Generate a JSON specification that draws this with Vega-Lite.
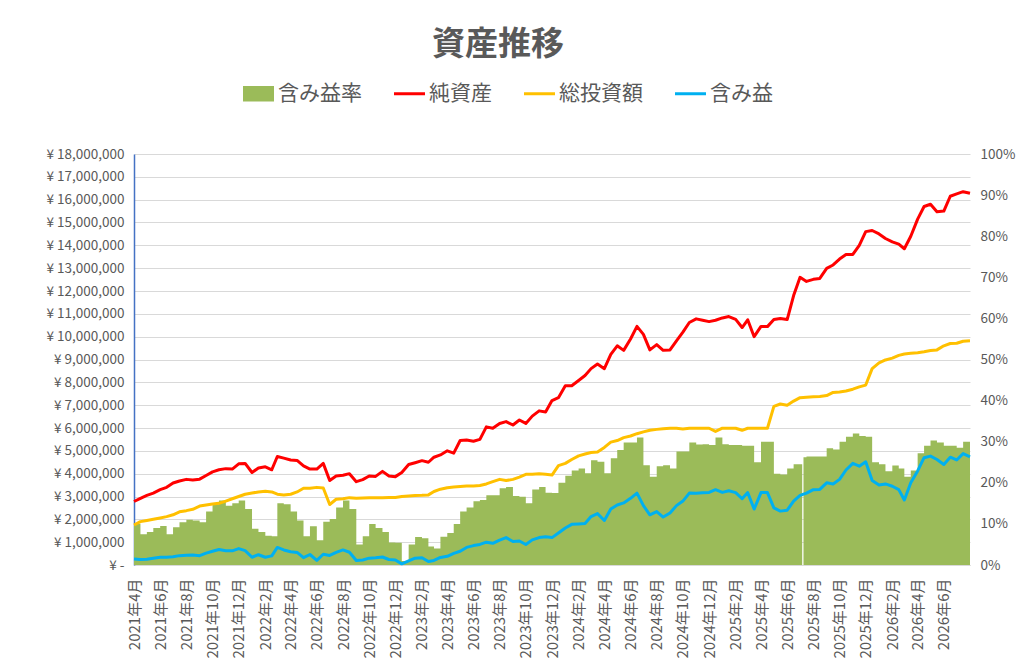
{
  "$schema": "https://vega.github.io/schema/vega-lite/v6.json",
  "width": 836,
  "height": 411,
  "autosize": {"type": "none"},
  "padding": {"left": 134, "top": 154, "right": 54, "bottom": 107},
  "background": "white",
  "title": {"text": "資産推移", "fontSize": 33, "fontWeight": "bold", "color": "#595959", "font": "Noto Sans CJK JP", "anchor": "middle", "frame": "group", "dx": -54, "offset": 21},
  "config": {
    "view": {"stroke": null},
    "axis": {"labelFont": "Noto Sans CJK JP", "labelColor": "#595959", "labelFontSize": 13.5, "title": null},
    "legend": {
      "orient": "none", "direction": "horizontal",
      "labelFont": "Noto Sans CJK JP", "labelFontSize": 21, "labelColor": "#595959", "labelLimit": 300,
      "symbolSize": 961, "symbolStrokeWidth": 3, "labelOffset": 9, "columnPadding": 26
    }
  },
  "data": {"values": [
    {"日付": "2021/04/01", "純資産": 2780000, "総投資額": 1750000, "含み益": 260000, "含み益率": 0.10},
    {"日付": "2021/04/16", "純資産": 2920000, "総投資額": 1900000, "含み益": 240000, "含み益率": 0.075},
    {"日付": "2021/05/01", "純資産": 3050000, "総投資額": 1950000, "含み益": 250000, "含み益率": 0.08},
    {"日付": "2021/05/16", "純資産": 3150000, "総投資額": 2000000, "含み益": 300000, "含み益率": 0.09},
    {"日付": "2021/06/01", "純資産": 3300000, "総投資額": 2060000, "含み益": 340000, "含み益率": 0.095},
    {"日付": "2021/06/16", "純資産": 3400000, "総投資額": 2120000, "含み益": 340000, "含み益率": 0.075},
    {"日付": "2021/07/01", "純資産": 3590000, "総投資額": 2200000, "含み益": 360000, "含み益率": 0.092},
    {"日付": "2021/07/16", "純資産": 3680000, "総投資額": 2330000, "含み益": 410000, "含み益率": 0.104},
    {"日付": "2021/08/01", "純資産": 3750000, "総投資額": 2380000, "含み益": 430000, "含み益率": 0.11},
    {"日付": "2021/08/16", "純資産": 3720000, "総投資額": 2440000, "含み益": 440000, "含み益率": 0.108},
    {"日付": "2021/09/01", "純資産": 3760000, "総投資額": 2580000, "含み益": 410000, "含み益率": 0.104},
    {"日付": "2021/09/16", "純資産": 3920000, "総投資額": 2630000, "含み益": 520000, "含み益率": 0.13},
    {"日付": "2021/10/01", "純資産": 4080000, "総投資額": 2670000, "含み益": 600000, "含み益率": 0.148},
    {"日付": "2021/10/16", "純資産": 4170000, "総投資額": 2700000, "含み益": 680000, "含み益率": 0.157},
    {"日付": "2021/11/01", "純資産": 4220000, "総投資額": 2800000, "含み益": 620000, "含み益率": 0.144},
    {"日付": "2021/11/16", "純資産": 4200000, "総投資額": 2900000, "含み益": 620000, "含み益率": 0.15},
    {"日付": "2021/12/01", "純資産": 4430000, "総投資額": 3000000, "含み益": 720000, "含み益率": 0.157},
    {"日付": "2021/12/16", "純資産": 4450000, "総投資額": 3100000, "含み益": 630000, "含み益率": 0.136},
    {"日付": "2022/01/01", "純資産": 4050000, "総投資額": 3150000, "含み益": 340000, "含み益率": 0.088},
    {"日付": "2022/01/16", "純資産": 4250000, "総投資額": 3200000, "含み益": 450000, "含み益率": 0.08},
    {"日付": "2022/02/01", "純資産": 4300000, "総投資額": 3230000, "含み益": 340000, "含み益率": 0.071},
    {"日付": "2022/02/16", "純資産": 4170000, "総投資額": 3200000, "含み益": 400000, "含み益率": 0.07},
    {"日付": "2022/03/01", "純資産": 4750000, "総投資額": 3100000, "含み益": 770000, "含み益率": 0.15},
    {"日付": "2022/03/16", "純資産": 4680000, "総投資額": 3070000, "含み益": 660000, "含み益率": 0.148},
    {"日付": "2022/04/01", "純資産": 4600000, "総投資額": 3100000, "含み益": 580000, "含み益率": 0.13},
    {"日付": "2022/04/16", "純資産": 4580000, "総投資額": 3200000, "含み益": 550000, "含み益率": 0.108},
    {"日付": "2022/05/01", "純資産": 4340000, "総投資額": 3360000, "含み益": 320000, "含み益率": 0.07},
    {"日付": "2022/05/16", "純資産": 4200000, "総投資額": 3360000, "含み益": 460000, "含み益率": 0.094},
    {"日付": "2022/06/01", "純資産": 4200000, "総投資額": 3400000, "含み益": 200000, "含み益率": 0.06},
    {"日付": "2022/06/16", "純資産": 4450000, "総投資額": 3370000, "含み益": 470000, "含み益率": 0.105},
    {"日付": "2022/07/01", "純資産": 3700000, "総投資額": 2650000, "含み益": 420000, "含み益率": 0.112},
    {"日付": "2022/07/16", "純資産": 3900000, "総投資額": 2880000, "含み益": 550000, "含み益率": 0.14},
    {"日付": "2022/08/01", "純資産": 3930000, "総投資額": 2900000, "含み益": 660000, "含み益率": 0.157},
    {"日付": "2022/08/16", "純資産": 4000000, "総投資額": 2950000, "含み益": 560000, "含み益率": 0.136},
    {"日付": "2022/09/01", "純資産": 3650000, "総投資額": 2920000, "含み益": 200000, "含み益率": 0.05},
    {"日付": "2022/09/16", "純資産": 3740000, "総投資額": 2930000, "含み益": 220000, "含み益率": 0.07},
    {"日付": "2022/10/01", "純資産": 3900000, "総投資額": 2940000, "含み益": 300000, "含み益率": 0.10},
    {"日付": "2022/10/16", "純資産": 3880000, "総投資額": 2950000, "含み益": 320000, "含み益率": 0.09},
    {"日付": "2022/11/01", "純資産": 4100000, "総投資額": 2950000, "含み益": 350000, "含み益率": 0.08},
    {"日付": "2022/11/16", "純資産": 3900000, "総投資額": 2960000, "含み益": 240000, "含み益率": 0.055},
    {"日付": "2022/12/01", "純資産": 3870000, "総投資額": 2960000, "含み益": 220000, "含み益率": 0.054},
    {"日付": "2022/12/16", "純資産": 4050000, "総投資額": 3000000, "含み益": 50000, "含み益率": 0.01},
    {"日付": "2023/01/01", "純資産": 4400000, "総投資額": 3020000, "含み益": 180000, "含み益率": 0.05},
    {"日付": "2023/01/16", "純資産": 4480000, "総投資額": 3040000, "含み益": 300000, "含み益率": 0.068},
    {"日付": "2023/02/01", "純資産": 4570000, "総投資額": 3050000, "含み益": 320000, "含み益率": 0.065},
    {"日付": "2023/02/16", "純資産": 4500000, "総投資額": 3070000, "含み益": 150000, "含み益率": 0.045},
    {"日付": "2023/03/01", "純資産": 4720000, "総投資額": 3220000, "含み益": 200000, "含み益率": 0.04},
    {"日付": "2023/03/16", "純資産": 4820000, "総投資額": 3320000, "含み益": 330000, "含み益率": 0.069},
    {"日付": "2023/04/01", "純資産": 5000000, "総投資額": 3380000, "含み益": 380000, "含み益率": 0.078},
    {"日付": "2023/04/16", "純資産": 4900000, "総投資額": 3420000, "含み益": 510000, "含み益率": 0.10},
    {"日付": "2023/05/01", "純資産": 5450000, "総投資額": 3440000, "含み益": 600000, "含み益率": 0.13},
    {"日付": "2023/05/16", "純資産": 5470000, "総投資額": 3460000, "含み益": 770000, "含み益率": 0.14},
    {"日付": "2023/06/01", "純資産": 5420000, "総投資額": 3460000, "含み益": 850000, "含み益率": 0.155},
    {"日付": "2023/06/16", "純資産": 5500000, "総投資額": 3480000, "含み益": 900000, "含み益率": 0.158},
    {"日付": "2023/07/01", "純資産": 6050000, "総投資額": 3550000, "含み益": 1000000, "含み益率": 0.17},
    {"日付": "2023/07/16", "純資産": 5990000, "総投資額": 3650000, "含み益": 950000, "含み益率": 0.17},
    {"日付": "2023/08/01", "純資産": 6200000, "総投資額": 3750000, "含み益": 1090000, "含み益率": 0.187},
    {"日付": "2023/08/16", "純資産": 6280000, "総投資額": 3700000, "含み益": 1200000, "含み益率": 0.19},
    {"日付": "2023/09/01", "純資産": 6130000, "総投資額": 3750000, "含み益": 1030000, "含み益率": 0.168},
    {"日付": "2023/09/16", "純資産": 6350000, "総投資額": 3850000, "含み益": 1050000, "含み益率": 0.166},
    {"日付": "2023/10/01", "純資産": 6200000, "総投資額": 3970000, "含み益": 900000, "含み益率": 0.15},
    {"日付": "2023/10/16", "純資産": 6520000, "総投資額": 3970000, "含み益": 1100000, "含み益率": 0.184},
    {"日付": "2023/11/01", "純資産": 6750000, "総投資額": 4000000, "含み益": 1200000, "含み益率": 0.19},
    {"日付": "2023/11/16", "純資産": 6700000, "総投資額": 3970000, "含み益": 1240000, "含み益率": 0.176},
    {"日付": "2023/12/01", "純資産": 7200000, "総投資額": 3940000, "含み益": 1200000, "含み益率": 0.175},
    {"日付": "2023/12/16", "純資産": 7330000, "総投資額": 4350000, "含み益": 1400000, "含み益率": 0.20},
    {"日付": "2024/01/01", "純資産": 7850000, "総投資額": 4450000, "含み益": 1620000, "含み益率": 0.217},
    {"日付": "2024/01/16", "純資産": 7850000, "総投資額": 4620000, "含み益": 1780000, "含み益率": 0.23},
    {"日付": "2024/02/01", "純資産": 8080000, "総投資額": 4780000, "含み益": 1800000, "含み益率": 0.235},
    {"日付": "2024/02/16", "純資産": 8300000, "総投資額": 4860000, "含み益": 1820000, "含み益率": 0.223},
    {"日付": "2024/03/01", "純資産": 8600000, "総投資額": 4930000, "含み益": 2120000, "含み益率": 0.255},
    {"日付": "2024/03/16", "純資産": 8800000, "総投資額": 4950000, "含み益": 2250000, "含み益率": 0.251},
    {"日付": "2024/04/01", "純資産": 8600000, "総投資額": 5150000, "含み益": 1950000, "含み益率": 0.223},
    {"日付": "2024/04/16", "純資産": 9220000, "総投資額": 5380000, "含み益": 2450000, "含み益率": 0.26},
    {"日付": "2024/05/01", "純資産": 9600000, "総投資額": 5450000, "含み益": 2630000, "含み益率": 0.28},
    {"日付": "2024/05/16", "純資産": 9400000, "総投資額": 5580000, "含み益": 2720000, "含み益率": 0.298},
    {"日付": "2024/06/01", "純資産": 9900000, "総投資額": 5650000, "含み益": 2920000, "含み益率": 0.298},
    {"日付": "2024/06/16", "純資産": 10450000, "総投資額": 5750000, "含み益": 3150000, "含み益率": 0.31},
    {"日付": "2024/07/01", "純資産": 10100000, "総投資額": 5830000, "含み益": 2600000, "含み益率": 0.243},
    {"日付": "2024/07/16", "純資産": 9420000, "総投資額": 5900000, "含み益": 2200000, "含み益率": 0.215},
    {"日付": "2024/08/01", "純資産": 9650000, "総投資額": 5940000, "含み益": 2340000, "含み益率": 0.24},
    {"日付": "2024/08/16", "純資産": 9400000, "総投資額": 5970000, "含み益": 2100000, "含み益率": 0.243},
    {"日付": "2024/09/01", "純資産": 9420000, "総投資額": 5990000, "含み益": 2280000, "含み益率": 0.235},
    {"日付": "2024/09/16", "純資産": 9820000, "総投資額": 5990000, "含み益": 2600000, "含み益率": 0.276},
    {"日付": "2024/10/01", "純資産": 10200000, "総投資額": 5960000, "含み益": 2800000, "含み益率": 0.276},
    {"日付": "2024/10/16", "純資産": 10620000, "総投資額": 5990000, "含み益": 3150000, "含み益率": 0.298},
    {"日付": "2024/11/01", "純資産": 10780000, "総投資額": 5990000, "含み益": 3140000, "含み益率": 0.293},
    {"日付": "2024/11/16", "純資産": 10720000, "総投資額": 5990000, "含み益": 3160000, "含み益率": 0.294},
    {"日付": "2024/12/01", "純資産": 10660000, "総投資額": 5990000, "含み益": 3180000, "含み益率": 0.292},
    {"日付": "2024/12/16", "純資産": 10720000, "総投資額": 5850000, "含み益": 3300000, "含み益率": 0.31},
    {"日付": "2025/01/01", "純資産": 10820000, "総投資額": 5990000, "含み益": 3180000, "含み益率": 0.294},
    {"日付": "2025/01/16", "純資産": 10880000, "総投資額": 5990000, "含み益": 3250000, "含み益率": 0.292},
    {"日付": "2025/02/01", "純資産": 10760000, "総投資額": 5990000, "含み益": 3170000, "含み益率": 0.292},
    {"日付": "2025/02/16", "純資産": 10400000, "総投資額": 5900000, "含み益": 2900000, "含み益率": 0.29},
    {"日付": "2025/03/01", "純資産": 10740000, "総投資額": 5990000, "含み益": 3170000, "含み益率": 0.29},
    {"日付": "2025/03/16", "純資産": 10000000, "総投資額": 5990000, "含み益": 2450000, "含み益率": 0.25},
    {"日付": "2025/04/01", "純資産": 10450000, "総投資額": 5990000, "含み益": 3170000, "含み益率": 0.30},
    {"日付": "2025/04/16", "純資産": 10440000, "総投資額": 5990000, "含み益": 3170000, "含み益率": 0.30},
    {"日付": "2025/05/01", "純資産": 10750000, "総投資額": 6950000, "含み益": 2500000, "含み益率": 0.222},
    {"日付": "2025/05/16", "純資産": 10800000, "総投資額": 7050000, "含み益": 2360000, "含み益率": 0.22},
    {"日付": "2025/06/01", "純資産": 10750000, "総投資額": 7000000, "含み益": 2400000, "含み益率": 0.235},
    {"日付": "2025/06/16", "純資産": 11800000, "総投資額": 7180000, "含み益": 2800000, "含み益率": 0.245},
    {"日付": "2025/07/01", "純資産": 12600000, "総投資額": 7330000, "含み益": 3050000, "含み益率": 0.245},
    {"日付": "2025/07/06", "含み益率": 0},
    {"日付": "2025/07/09", "含み益率": 0.262},
    {"日付": "2025/07/16", "純資産": 12420000, "総投資額": 7350000, "含み益": 3150000, "含み益率": 0.264},
    {"日付": "2025/08/01", "純資産": 12510000, "総投資額": 7370000, "含み益": 3300000, "含み益率": 0.264},
    {"日付": "2025/08/16", "純資産": 12550000, "総投資額": 7380000, "含み益": 3310000, "含み益率": 0.264},
    {"日付": "2025/09/01", "純資産": 12990000, "総投資額": 7420000, "含み益": 3600000, "含み益率": 0.284},
    {"日付": "2025/09/16", "純資産": 13140000, "総投資額": 7560000, "含み益": 3550000, "含み益率": 0.281},
    {"日付": "2025/10/01", "純資産": 13400000, "総投資額": 7580000, "含み益": 3750000, "含み益率": 0.30},
    {"日付": "2025/10/16", "純資産": 13600000, "総投資額": 7620000, "含み益": 4160000, "含み益率": 0.312},
    {"日付": "2025/11/01", "純資産": 13600000, "総投資額": 7700000, "含み益": 4450000, "含み益率": 0.32},
    {"日付": "2025/11/16", "純資産": 14000000, "総投資額": 7800000, "含み益": 4330000, "含み益率": 0.314},
    {"日付": "2025/12/01", "純資産": 14600000, "総投資額": 7880000, "含み益": 4520000, "含み益率": 0.312},
    {"日付": "2025/12/16", "純資産": 14650000, "総投資額": 8600000, "含み益": 3700000, "含み益率": 0.25},
    {"日付": "2026/01/01", "純資産": 14500000, "総投資額": 8850000, "含み益": 3500000, "含み益率": 0.245},
    {"日付": "2026/01/16", "純資産": 14300000, "総投資額": 8980000, "含み益": 3550000, "含み益率": 0.228},
    {"日付": "2026/02/01", "純資産": 14150000, "総投資額": 9060000, "含み益": 3450000, "含み益率": 0.242},
    {"日付": "2026/02/16", "純資産": 14050000, "総投資額": 9180000, "含み益": 3300000, "含み益率": 0.235},
    {"日付": "2026/03/01", "純資産": 13850000, "総投資額": 9240000, "含み益": 2850000, "含み益率": 0.215},
    {"日付": "2026/03/16", "純資産": 14400000, "総投資額": 9270000, "含み益": 3600000, "含み益率": 0.23},
    {"日付": "2026/04/01", "純資産": 15150000, "総投資額": 9300000, "含み益": 4120000, "含み益率": 0.272},
    {"日付": "2026/04/16", "純資産": 15700000, "総投資額": 9340000, "含み益": 4700000, "含み益率": 0.29},
    {"日付": "2026/05/01", "純資産": 15800000, "総投資額": 9390000, "含み益": 4770000, "含み益率": 0.303},
    {"日付": "2026/05/16", "純資産": 15470000, "総投資額": 9420000, "含み益": 4620000, "含み益率": 0.298},
    {"日付": "2026/06/01", "純資産": 15500000, "総投資額": 9600000, "含み益": 4400000, "含み益率": 0.29},
    {"日付": "2026/06/16", "純資産": 16150000, "総投資額": 9700000, "含み益": 4720000, "含み益率": 0.29},
    {"日付": "2026/07/01", "純資産": 16250000, "総投資額": 9710000, "含み益": 4600000, "含み益率": 0.285},
    {"日付": "2026/07/16", "純資産": 16350000, "総投資額": 9800000, "含み益": 4880000, "含み益率": 0.30},
    {"日付": "2026/08/01", "純資産": 16280000, "総投資額": 9820000, "含み益": 4740000, "含み益率": 0.29}
  ]},
  "encoding": {
    "x": {
      "field": "日付", "type": "temporal",
      "scale": {"domain": [{"year": 2021, "month": 4, "date": 1}, {"year": 2026, "month": 8, "date": 1}]},
      "axis": {
        "values": [
          {"year": 2021, "month": 4, "date": 1}, {"year": 2021, "month": 6, "date": 1}, {"year": 2021, "month": 8, "date": 1}, {"year": 2021, "month": 10, "date": 1}, {"year": 2021, "month": 12, "date": 1},
          {"year": 2022, "month": 2, "date": 1}, {"year": 2022, "month": 4, "date": 1}, {"year": 2022, "month": 6, "date": 1}, {"year": 2022, "month": 8, "date": 1}, {"year": 2022, "month": 10, "date": 1}, {"year": 2022, "month": 12, "date": 1},
          {"year": 2023, "month": 2, "date": 1}, {"year": 2023, "month": 4, "date": 1}, {"year": 2023, "month": 6, "date": 1}, {"year": 2023, "month": 8, "date": 1}, {"year": 2023, "month": 10, "date": 1}, {"year": 2023, "month": 12, "date": 1},
          {"year": 2024, "month": 2, "date": 1}, {"year": 2024, "month": 4, "date": 1}, {"year": 2024, "month": 6, "date": 1}, {"year": 2024, "month": 8, "date": 1}, {"year": 2024, "month": 10, "date": 1}, {"year": 2024, "month": 12, "date": 1},
          {"year": 2025, "month": 2, "date": 1}, {"year": 2025, "month": 4, "date": 1}, {"year": 2025, "month": 6, "date": 1}, {"year": 2025, "month": 8, "date": 1}, {"year": 2025, "month": 10, "date": 1}, {"year": 2025, "month": 12, "date": 1},
          {"year": 2026, "month": 2, "date": 1}, {"year": 2026, "month": 4, "date": 1}, {"year": 2026, "month": 6, "date": 1}
        ],
        "format": "%Y年%-m月",
        "labelAngle": -90,
        "labelFontSize": 15,
        "ticks": false,
        "grid": false,
        "domainColor": "#D9D9D9",
        "labelPadding": 13,
        "labelOverlap": false,
        "labelFlush": false,
        "title": null
      }
    }
  },
  "layer": [
    {
      "mark": {"type": "area", "interpolate": "step-after", "opacity": 1},
      "encoding": {
        "y": {
          "field": "含み益率", "type": "quantitative",
          "scale": {"domain": [0, 1], "nice": false},
          "axis": {"orient": "right", "values": [0, 0.1, 0.2, 0.3, 0.4, 0.5, 0.6, 0.7, 0.8, 0.9, 1], "format": ".0%", "grid": false, "domain": false, "ticks": false, "labelPadding": 10, "title": null}
        },
        "color": {"datum": "含み益率", "type": "nominal"}
      }
    },
    {
      "transform": [
        {"fold": ["純資産", "総投資額", "含み益"], "as": ["系列", "金額"]},
        {"filter": "isValid(datum['金額'])"}
      ],
      "mark": {"type": "line", "strokeWidth": 3, "strokeJoin": "round"},
      "encoding": {
        "y": {
          "field": "金額", "type": "quantitative",
          "scale": {"domain": [0, 18000000], "nice": false},
          "axis": {
            "orient": "left",
            "values": [0, 1000000, 2000000, 3000000, 4000000, 5000000, 6000000, 7000000, 8000000, 9000000, 10000000, 11000000, 12000000, 13000000, 14000000, 15000000, 16000000, 17000000, 18000000],
            "labelExpr": "datum.value === 0 ? '¥ -' : '¥ ' + format(datum.value, ',')",
            "grid": true, "gridColor": "#D9D9D9", "gridWidth": 1,
            "domainColor": "#4472C4", "domainWidth": 1.5,
            "ticks": false, "labelPadding": 10, "title": null
          }
        },
        "color": {
          "field": "系列", "type": "nominal",
          "scale": {"domain": ["含み益率", "純資産", "総投資額", "含み益"], "range": ["#9BBB59", "#FF0000", "#FFC000", "#00B0F0"]},
          "legend": {
            "orient": "none", "legendX": 114, "legendY": -71, "direction": "horizontal",
            "title": null,
            "labelFont": "Noto Sans CJK JP", "labelFontSize": 21, "labelColor": "#595959",
            "symbolSize": 961, "labelOffset": 9, "columnPadding": 26,
            "encode": {
              "labels": {"update": {"fontSize": {"value": 21}}},
              "symbols": {
                "update": {
                  "shape": {"signal": "datum.value === '含み益率' ? 'M-1,-0.5H1V0.5H-1Z' : 'stroke'"},
                  "size": {"value": 961},
                  "fill": {"scale": "color", "field": "value"},
                  "stroke": {"scale": "color", "field": "value"},
                  "strokeWidth": {"signal": "datum.value === '含み益率' ? 0 : 3"},
                  "opacity": {"value": 1}
                }
              }
            }
          }
        }
      }
    }
  ],
  "resolve": {"scale": {"y": "independent"}}
}
